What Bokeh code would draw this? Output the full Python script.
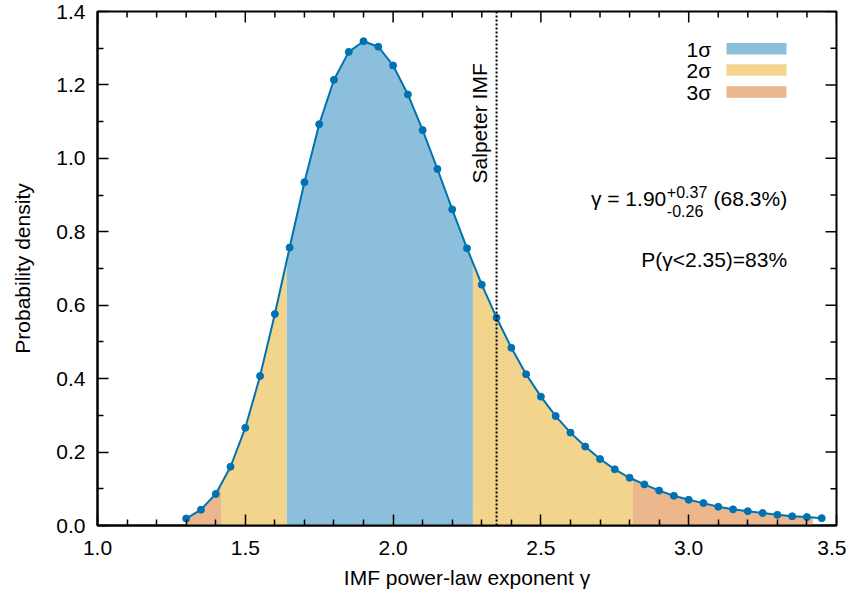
import numpy as np
from bokeh.plotting import figure
from bokeh.models import FixedTicker, PrintfTickFormatter, Range1d, Span
from bokeh.core.properties import value
from bokeh.embed import file_html
from bokeh.resources import INLINE

# ---------------- data ----------------
gamma = [1.30, 1.35, 1.40, 1.45, 1.50, 1.55, 1.60, 1.65, 1.70, 1.75,
         1.80, 1.85, 1.90, 1.95, 2.00, 2.05, 2.10, 2.15, 2.20, 2.25,
         2.30, 2.35, 2.40, 2.45, 2.50, 2.55, 2.60, 2.65, 2.70, 2.75,
         2.80, 2.85, 2.90, 2.95, 3.00, 3.05, 3.10, 3.15, 3.20, 3.25,
         3.30, 3.35, 3.40, 3.45]
density = [0.019, 0.043, 0.086, 0.160, 0.266, 0.407, 0.576, 0.757, 0.935, 1.093,
           1.214, 1.290, 1.319, 1.304, 1.253, 1.174, 1.077, 0.971, 0.861, 0.755,
           0.656, 0.566, 0.484, 0.412, 0.351, 0.298, 0.253, 0.215, 0.181, 0.153,
           0.130, 0.112, 0.095, 0.081, 0.070, 0.061, 0.051, 0.044, 0.039, 0.034,
           0.029, 0.025, 0.023, 0.020]

sigma_names = ["1σ", "2σ", "3σ"]
sigma_intervals = [(1.64, 2.27), (1.42, 2.81), (1.30, 3.42)]
sigma_colors = ["#8CBFDC", "#F3D48C", "#ECB78C"]

x_ticks = [1.0, 1.5, 2.0, 2.5, 3.0, 3.5]
x_minor = [1.1, 1.2, 1.3, 1.4, 1.6, 1.7, 1.8, 1.9, 2.1, 2.2, 2.3, 2.4,
           2.6, 2.7, 2.8, 2.9, 3.1, 3.2, 3.3, 3.4]
y_ticks = [0.0, 0.2, 0.4, 0.6, 0.8, 1.0, 1.2, 1.4]
y_minor = [0.1, 0.3, 0.5, 0.7, 0.9, 1.1, 1.3]

salpeter = 2.35
gamma_best = "1.90"
err_plus = "+0.37"
err_minus = "-0.26"
conf_text = "(68.3%)"
p_text = "P(γ<2.35)=83%"

FONT = "Liberation Sans"
LINE = "#0072B2"
X0, X1, Y0, Y1 = 1.0, 3.5, 0.0, 1.4
FW, FH = 739, 514  # frame size in px (for inward mirror ticks)

p = figure(width=846, height=593, x_range=Range1d(X0, X1), y_range=Range1d(Y0, Y1),
           output_backend="svg", toolbar_location=None,
           min_border_left=97, min_border_right=10, min_border_top=11, min_border_bottom=68)
p.grid.visible = False
p.outline_line_color = "black"
p.outline_line_width = 2
p.background_fill_color = "white"

# ---- shaded confidence bands ----
def band(a, b):
    inner = [g for g in gamma if a < g < b]
    xs = [a] + inner + [b]
    ys = list(np.interp(xs, gamma, density))
    return xs, ys

segments = [
    (sigma_intervals[2][0], sigma_intervals[1][0], sigma_colors[2]),
    (sigma_intervals[1][0], sigma_intervals[0][0], sigma_colors[1]),
    (sigma_intervals[0][0], sigma_intervals[0][1], sigma_colors[0]),
    (sigma_intervals[0][1], sigma_intervals[1][1], sigma_colors[1]),
    (sigma_intervals[1][1], sigma_intervals[2][1], sigma_colors[2]),
]
for a, b, c in segments:
    xs, ys = band(a, b)
    p.varea(x=xs, y1=[0] * len(xs), y2=ys, fill_color=c)

p.line(gamma, density, line_color=LINE, line_width=2)
p.scatter(gamma, density, size=7, fill_color=LINE, line_color=LINE)

p.add_layout(Span(location=salpeter, dimension="height", line_color="black",
                  line_width=2, line_dash="2 2"))

p.text(x=[2.332], y=[0.9316], text=["Salpeter IMF"], angle=np.pi / 2,
       text_align="left", text_baseline="bottom",
       text_font=value(FONT), text_font_size="21px", text_color="black")

# ---- legend (labels left of swatches) ----
leg_y = [1.2986, 1.2408, 1.1809]
for name, col, yy in zip(sigma_names, sigma_colors, leg_y):
    p.quad(left=[3.128], right=[3.331], bottom=[yy - 0.0155], top=[yy + 0.0155],
           fill_color=col, line_color=None)
    p.text(x=[3.076], y=[yy - 0.002], text=[name], text_align="right", text_baseline="middle",
           text_font=value(FONT), text_font_size="21px", text_color="black")

# ---- annotations ----
p.text(x=[2.924], y=[0.859], text=["γ = " + gamma_best], text_align="right",
       text_baseline="bottom", text_font=value(FONT), text_font_size="21px")
p.text(x=[2.926], y=[0.8924], text=[err_plus], text_align="left",
       text_baseline="bottom", text_font=value(FONT), text_font_size="16px")
p.text(x=[2.926], y=[0.8415], text=[err_minus], text_align="left",
       text_baseline="bottom", text_font=value(FONT), text_font_size="16px")
p.text(x=[3.333], y=[0.859], text=[conf_text], text_align="right",
       text_baseline="bottom", text_font=value(FONT), text_font_size="21px")
p.text(x=[3.333], y=[0.6933], text=[p_text], text_align="right",
       text_baseline="bottom", text_font=value(FONT), text_font_size="21px")

# ---- axes ----
def style(ax, ticks, minor):
    ax.ticker = FixedTicker(ticks=ticks, minor_ticks=minor)
    ax.formatter = PrintfTickFormatter(format="%.1f")
    ax.major_tick_in = 11
    ax.major_tick_out = 0
    ax.minor_tick_in = 6
    ax.minor_tick_out = 0
    ax.major_tick_line_width = 1.5
    ax.minor_tick_line_width = 1.5
    ax.major_tick_line_color = "black"
    ax.minor_tick_line_color = "black"
    ax.axis_line_width = 2
    ax.axis_line_color = "black"
    ax.major_label_text_font = FONT
    ax.major_label_text_font_size = "21px"
    ax.major_label_text_color = "black"
    ax.axis_label_text_font = FONT
    ax.axis_label_text_font_size = "21px"
    ax.axis_label_text_font_style = "normal"
    ax.axis_label_text_color = "black"

xa = p.xaxis[0]
ya = p.yaxis[0]
style(xa, x_ticks, x_minor)
style(ya, y_ticks, y_minor)
xa.axis_label = "IMF power-law exponent γ"
ya.axis_label = "Probability density"
xa.major_label_standoff = 15
ya.major_label_standoff = 12
xa.axis_label_standoff = 8
ya.axis_label_standoff = 19

# ---- mirrored inward ticks on top and right edges ----
dy_major, dy_minor = 11 * (Y1 - Y0) / FH, 6 * (Y1 - Y0) / FH
dx_major, dx_minor = 11 * (X1 - X0) / FW, 6 * (X1 - X0) / FW
p.segment(x0=x_ticks, y0=[Y1] * len(x_ticks), x1=x_ticks, y1=[Y1 - dy_major] * len(x_ticks),
          line_color="black", line_width=1.5)
p.segment(x0=x_minor, y0=[Y1] * len(x_minor), x1=x_minor, y1=[Y1 - dy_minor] * len(x_minor),
          line_color="black", line_width=1.5)
p.segment(x0=[X1] * len(y_ticks), y0=y_ticks, x1=[X1 - dx_major] * len(y_ticks), y1=y_ticks,
          line_color="black", line_width=1.5)
p.segment(x0=[X1] * len(y_minor), y0=y_minor, x1=[X1 - dx_minor] * len(y_minor), y1=y_minor,
          line_color="black", line_width=1.5)

open("out.html", "w").write(file_html(p, INLINE))
